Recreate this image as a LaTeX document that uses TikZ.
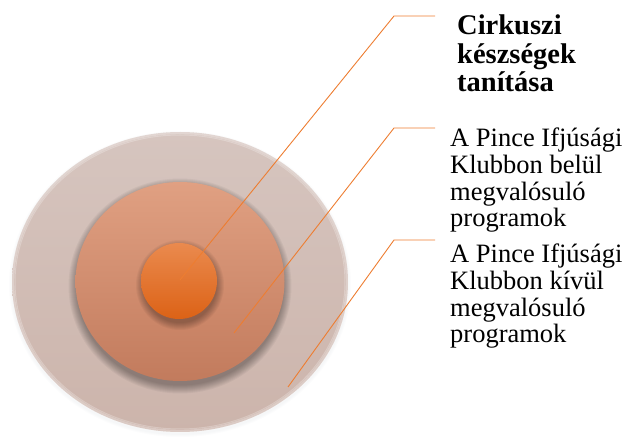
\documentclass[tikz,border=0pt]{standalone}
\usepackage{fontspec}
\setmainfont{Liberation Serif}
\definecolor{outerT}{RGB}{214,197,191}
\definecolor{outerB}{RGB}{204,180,171}
\definecolor{midT}{RGB}{224,160,130}
\definecolor{midB}{RGB}{194,123,93}
\definecolor{inT}{RGB}{234,138,78}
\definecolor{inB}{RGB}{220,98,22}
\definecolor{lineC}{RGB}{237,125,49}
\definecolor{halo}{RGB}{170,180,188}
\begin{document}
\begin{tikzpicture}[x=1pt,y=-1pt,
  conn/.style={draw=lineC, line width=0.9pt},
  lbl/.style={anchor=base west, align=left, inner sep=0pt, font=\fontsize{26.5}{26.7}\selectfont},
  lblb/.style={anchor=base west, align=left, inner sep=0pt, font=\fontsize{28.5}{28.6}\selectfont\bfseries},
  shadowring/.style={fill=black, opacity=0.04}]
\useasboundingbox (0,0) rectangle (627,438);
% outer disc with faint halo
\foreach \i in {1,...,3}
  \fill[halo, opacity=0.035] (180,284) ellipse ({168+\i} and {150+\i});
\shade[top color=outerT, bottom color=outerB] (180,282) ellipse (168 and 150);
\draw[white, line width=2.4pt, opacity=0.3] (180,282) ellipse (167 and 149);
\draw[white, line width=1pt, opacity=0.25] (180,282) ellipse (165 and 147);
% middle disc shadow
\foreach \i in {1,...,9}
  \fill[shadowring] (180,286) ellipse ({104.5+8-\i} and {99.5+9-\i});
\shade[top color=midT, bottom color=midB] (180,281.5) ellipse (104.5 and 99.5);
% inner disc shadow
\foreach \i in {1,...,8}
  \fill[shadowring] (180,285) ellipse ({38+7-\i} and {38+8-\i});
\shade[top color=inT, bottom color=inB] (179,281) circle (38);
% labels (anchored at the baseline of the last line)
\node[lblb] (t1) at (457,92) {Cirkuszi\\készségek\\tanítása};
\node[lbl] (t2) at (450,227) {A Pince Ifjúsági\\Klubbon belül\\megvalósuló\\programok};
\node[lbl] (t3) at (450,343) {A Pince Ifjúsági\\Klubbon kívül\\megvalósuló\\programok};
% connectors
\coordinate (p1) at (180,280);
\coordinate (k1) at (394,16);
\coordinate (e1) at (435,16);
\coordinate (p2) at (234,333);
\coordinate (k2) at (394,128);
\coordinate (e2) at (435,128);
\coordinate (p3) at (288,387);
\coordinate (k3) at (394,240);
\coordinate (e3) at (435,240);
\draw[conn] (p1) -- (k1) -- (e1);
\draw[conn] (p2) -- (k2) -- (e2);
\draw[conn] (p3) -- (k3) -- (e3);
\end{tikzpicture}
\end{document}
